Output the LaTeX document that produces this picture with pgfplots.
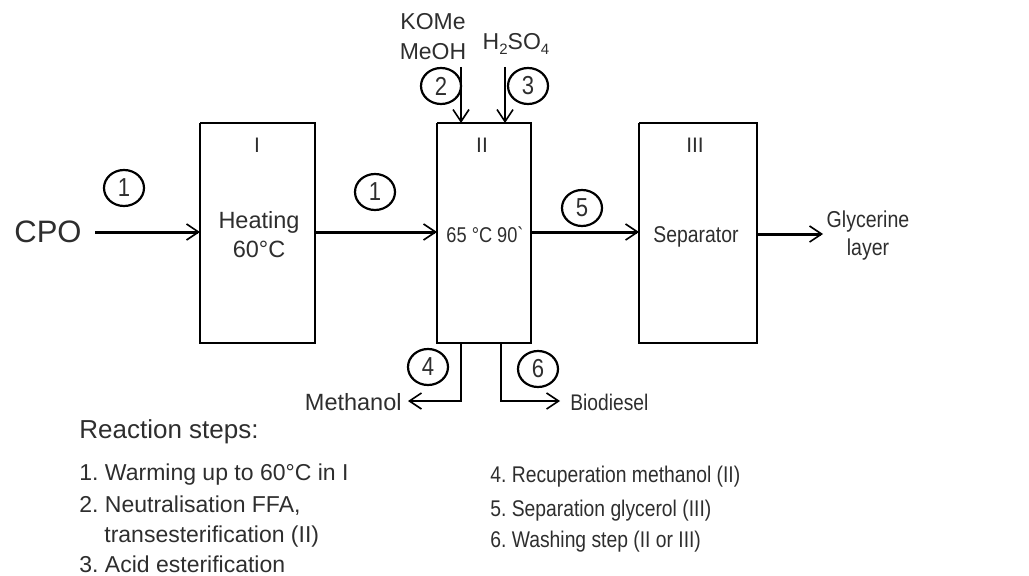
\documentclass[border=0pt]{standalone}
\usepackage{pgfplots}
\pgfplotsset{compat=1.18}
\usepackage{fontspec}
\setmainfont{Liberation Sans}
\newfontfamily\narrowfont[FakeStretch=0.85]{Liberation Sans}
\usetikzlibrary{arrows.meta,shapes.geometric}
\definecolor{txt}{HTML}{2E2E2E}
\newcommand{\fs}[1]{\fontsize{#1bp}{#1bp}\selectfont}
\frenchspacing
\tikzset{
  tip/.style={-{Straight Barb[length=6bp,width=8bp,line width=0.8bp]}},
  num/.style={draw=black, ellipse, line width=1.1bp, minimum width=20bp, minimum height=18bp, inner sep=0pt, text=txt, font=\narrowfont\fs{13}},
  lbl/.style={anchor=base, text=txt, inner sep=0pt},
  lw/.style={anchor=base west, text=txt, inner sep=0pt},
}
\begin{document}
\begin{tikzpicture}
\begin{axis}[
  width=514.5bp, height=288bp, scale only axis,
  xmin=0, xmax=1029, ymin=0, ymax=576, y dir=reverse,
  hide axis, clip=false, no markers,
]
% frame of the page
\addplot[draw=none] coordinates {(0,0) (1029,576)};
% boxes I, II, III
\addplot[black, line width=0.7bp, line join=miter] coordinates {(200,123) (315,123) (315,343) (200,343) (200,123)};
\addplot[black, line width=0.7bp, line join=miter] coordinates {(437,123) (531,123) (531,343) (437,343) (437,123)};
\addplot[black, line width=0.7bp, line join=miter] coordinates {(639,123) (757,123) (757,343) (639,343) (639,123)};
% main flow arrows
\addplot[black, line width=1.5bp, tip] coordinates {(95,232) (200,232)};
\addplot[black, line width=1.5bp, tip] coordinates {(315,232) (437,232)};
\addplot[black, line width=1.5bp, tip] coordinates {(531,232) (639,232)};
\addplot[black, line width=1.5bp, tip] coordinates {(757,234) (823,234)};
% feed arrows
\addplot[black, line width=1bp, tip] coordinates {(461,67) (461,123)};
\addplot[black, line width=1bp, tip] coordinates {(505,67) (505,123)};
% outlet arrows
\addplot[black, line width=0.8bp, tip] coordinates {(461,343) (461,401) (408,401)};
\addplot[black, line width=0.8bp, tip] coordinates {(501,343) (501,401) (560,401)};
% circled step numbers
\node[num] at (axis cs:124,188) {1};
\node[num] at (axis cs:375,192) {1};
\node[num] at (axis cs:441,86) {2};
\node[num] at (axis cs:528,86) {3};
\node[num] at (axis cs:582,208) {5};
\node[num] at (axis cs:428,367) {4};
\node[num] at (axis cs:538,369) {6};
% labels
\node[lw, font=\fs{15.5}] at (axis cs:14,242) {CPO};
\node[lbl, font=\fs{10.5}] at (axis cs:257,152) {I};
\node[lbl, font=\fs{10.5}] at (axis cs:482,152) {II};
\node[lbl, font=\fs{10.5}] at (axis cs:695,152) {III};
\node[lbl, font=\fs{11.75}] at (axis cs:259,228) {Heating};
\node[lbl, font=\fs{11.75}] at (axis cs:259,257) {60°C};
\node[lbl, font=\narrowfont\fs{10.7}] at (axis cs:485,242) {65 °C 90\char"60};
\node[lbl, font=\narrowfont\fs{11.4}] at (axis cs:696,242) {Separator};
\node[lbl, font=\narrowfont\fs{11.5}] at (axis cs:868,227) {Glycerine};
\node[lbl, font=\narrowfont\fs{11.5}] at (axis cs:868,255) {layer};
\node[lbl, font=\fs{11.5}] at (axis cs:433,30) {KOMe};
\node[lbl, font=\fs{11.5}] at (axis cs:433,60) {MeOH};
\node[lbl, font=\fs{11.5}] at (axis cs:516,50) {H\raisebox{-0.35ex}{\fs{7.5}2}SO\raisebox{-0.35ex}{\fs{7.5}4}};
\node[anchor=base east, text=txt, inner sep=0pt, font=\fs{11.75}] at (axis cs:402,410) {Methanol};
\node[lw, font=\narrowfont\fs{11.3}] at (axis cs:570,410) {Biodiesel};
% reaction steps
\node[lw, font=\fs{13}] at (axis cs:79,438) {Reaction steps:};
\node[lw, font=\fs{11.5}] at (axis cs:79,480) {1. Warming up to 60°C in I};
\node[lw, font=\fs{11.5}] at (axis cs:79,512) {2. Neutralisation FFA,};
\node[lw, font=\fs{11.5}] at (axis cs:104,542) {transesterification (II)};
\node[lw, font=\fs{11.5}] at (axis cs:79,572) {3. Acid esterification};
\node[lw, font=\narrowfont\fs{11.35}] at (axis cs:490,482) {4. Recuperation methanol (II)};
\node[lw, font=\narrowfont\fs{11.35}] at (axis cs:490,516) {5. Separation glycerol (III)};
\node[lw, font=\narrowfont\fs{11.35}] at (axis cs:490,547) {6. Washing step (II or III)};
\end{axis}
\end{tikzpicture}
\end{document}
